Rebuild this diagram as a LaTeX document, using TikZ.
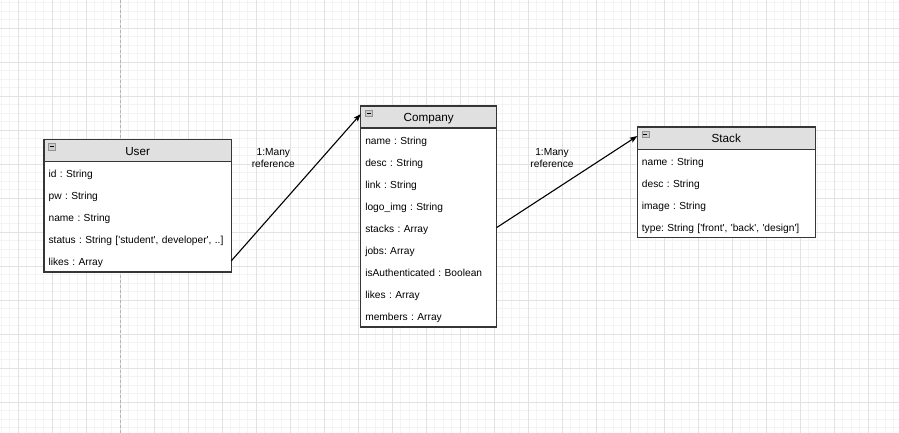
\documentclass[tikz,border=0pt]{standalone}
\usepackage{fontspec}
\setmainfont{Liberation Sans}[Ligatures=TeXOff]
\usetikzlibrary{positioning,arrows.meta}
\definecolor{hdrgray}{HTML}{E0E0E0}
\definecolor{boxline}{HTML}{363636}
\definecolor{majorgrid}{HTML}{E2E2E2}
\definecolor{minorgrid}{HTML}{F3F3F3}
\definecolor{pagegray}{HTML}{B4B4B4}

\begin{document}
\frenchspacing
\begin{tikzpicture}[x=1pt, y=-1pt,
  classbox/.style={draw=boxline, line width=1.2pt, fill=white, anchor=north west,
    inner sep=0pt, outer sep=0pt, minimum width=#1},
  header/.style={draw=boxline, line width=1.2pt, fill=hdrgray, anchor=north west,
    inner sep=0pt, outer sep=0pt, minimum width=#1, minimum height=22.1pt,
    text height=10.8pt, text depth=1.4pt, font=\fontsize{11.7}{14}\selectfont},
  row/.style={inner xsep=4.6pt, inner ysep=0pt, outer sep=0pt, text width=#1,
    minimum height=22.1pt, align=left, text height=10.8pt, text depth=1.1pt,
    font=\fontsize{10.2}{12}\selectfont},
  minus/.style={draw=gray!85, fill=gray!40, line width=0.6pt, minimum width=7pt,
    minimum height=6.5pt, inner sep=0pt, font=\tiny},
  elabel/.style={align=center, inner sep=0pt, font=\fontsize{10.2}{11.3}\selectfont},
  conn/.style={-{Stealth[length=7.5pt, width=5.5pt, inset=1.5pt]}, line width=1.1pt, black},
]
\useasboundingbox (0,0) rectangle (899,433);
\fill[white] (0,0) rectangle (899,433);

% grid
\foreach \i in {0,...,105} \draw[minorgrid, line width=0.8pt] (1.3+8.5*\i,0) -- (1.3+8.5*\i,433);
\foreach \i in {0,...,50} \draw[minorgrid, line width=0.8pt] (0,2.8+8.5*\i) -- (899,2.8+8.5*\i);
\foreach \i in {0,...,25} \draw[majorgrid, line width=0.9pt] (18.3+34*\i,0) -- (18.3+34*\i,433);
\foreach \i in {0,...,11} \draw[majorgrid, line width=0.9pt] (0,28.3+34*\i) -- (899,28.3+34*\i);
\draw[pagegray, line width=0.9pt, dash pattern=on 3pt off 2pt] (120.5,0) -- (120.5,433);

% User
\node[classbox=187.3pt, minimum height=132.6pt] (user) at (44,139.3) {};
\node[header=187.3pt] (utitle) at (user.north west) {User};
\node[minus] (umin) at ([xshift=8pt, yshift=-7.5pt]utitle.north west) {\rule{4pt}{0.8pt}};
\node[row=178.1pt, below=0pt of utitle] (uid) {id : String};
\node[row=178.1pt, below=0pt of uid] (upw) {pw : String};
\node[row=178.1pt, below=0pt of upw] (uname) {name : String};
\node[row=178.1pt, below=0pt of uname] (ustatus) {status : String ['student', developer', ..]};
\node[row=178.1pt, below=0pt of ustatus] (ulikes) {likes : Array};

% Company
\node[classbox=136pt, minimum height=221pt] (company) at (360.7,106) {};
\node[header=136pt] (ctitle) at (company.north west) {Company};
\node[minus] (cmin) at ([xshift=8pt, yshift=-7.5pt]ctitle.north west) {\rule{4pt}{0.8pt}};
\node[row=126.8pt, below=0pt of ctitle] (cname) {name : String};
\node[row=126.8pt, below=0pt of cname] (cdesc) {desc : String};
\node[row=126.8pt, below=0pt of cdesc] (clink) {link : String};
\node[row=126.8pt, below=0pt of clink] (clogo) {logo\_img : String};
\node[row=126.8pt, below=0pt of clogo] (cstacks) {stacks : Array};
\node[row=126.8pt, below=0pt of cstacks] (cjobs) {jobs: Array};
\node[row=126.8pt, below=0pt of cjobs] (cauth) {isAuthenticated : Boolean};
\node[row=126.8pt, below=0pt of cauth] (clikes) {likes : Array};
\node[row=126.8pt, below=0pt of clikes] (cmembers) {members : Array};

% Stack
\node[classbox=178pt, minimum height=110.5pt] (stack) at (637.3,127) {};
\node[header=178pt] (stitle) at (stack.north west) {Stack};
\node[minus] (smin) at ([xshift=8pt, yshift=-7.5pt]stitle.north west) {\rule{4pt}{0.8pt}};
\node[row=168.8pt, below=0pt of stitle] (sname) {name : String};
\node[row=168.8pt, below=0pt of sname] (sdesc) {desc : String};
\node[row=168.8pt, below=0pt of sdesc] (simage) {image : String};
\node[row=168.8pt, below=0pt of simage] (stype) {type: String ['front', 'back', 'design']};

% references
\draw[conn] (ulikes.east) -- ([yshift=3pt]ctitle.west);
\draw[conn] (cstacks.east) -- ([yshift=2pt]stitle.west);
\node[elabel] (lbl1) at (273.3,158) {1:Many\\reference};
\node[elabel] (lbl2) at (552,158) {1:Many\\reference};

\end{tikzpicture}
\end{document}
